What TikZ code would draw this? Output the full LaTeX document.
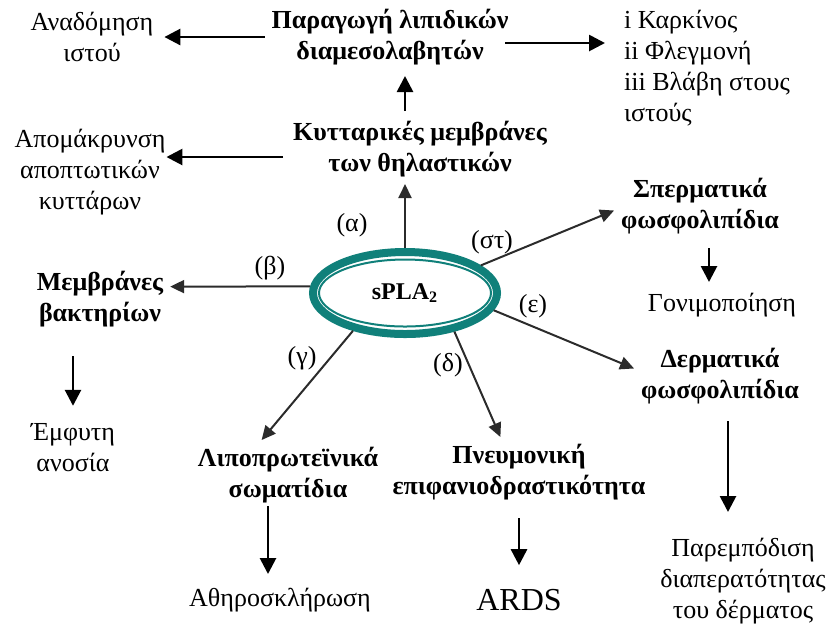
\documentclass[tikz,border=0pt]{standalone}
\usepackage{fontspec}
\setmainfont{Liberation Serif}
\usepackage{tikz}
\usetikzlibrary{shapes.geometric, arrows.meta}
\definecolor{splateal}{HTML}{10807A}
\definecolor{raygray}{HTML}{2B2B2B}

\begin{document}
\begin{tikzpicture}[
    x=0.5pt, y=-0.5pt,
    font=\fontsize{13}{15.5}\selectfont,
    cause/.style={align=center, font=\fontsize{13}{15.5}\selectfont\bfseries},
    effect/.style={align=center},
    tag/.style={inner sep=1pt},
    ray/.style={-{Triangle[length=7pt, width=6.5pt]}, line width=1pt, color=raygray},
    lead/.style={-{Triangle[length=8pt, width=8pt]}, line width=1.35pt, shorten <=1.5pt, shorten >=2pt}
]
\useasboundingbox (0,0) rectangle (838,629);
\node[ellipse, draw=splateal, line width=4pt, minimum width=92pt, minimum height=41pt] (spla) at (405,293) {};
\node[ellipse, draw=splateal, line width=1pt, minimum width=86pt, minimum height=33.5pt, font=\fontsize{12}{14}\selectfont\bfseries] (core) at (spla) {sPLA\textsubscript{2}};

\node[cause] (cell) at (420,149) {Κυτταρικές μεμβράνες\\των θηλαστικών};
\node[cause] (prod) at (390,37) {Παραγωγή λιπιδικών\\διαμεσολαβητών};
\node[effect] (anad) at (92,37) {Αναδόμηση\\ιστού};
\node[effect, align=left, anchor=west] (harm) at (617,68) {i Καρκίνος\\ii Φλεγμονή\\iii Βλάβη στους\\ιστούς};
\node[effect] (apom) at (90,172) {Απομάκρυνση\\αποπτωτικών\\κυττάρων};
\node[cause] (sperm) at (700,206) {Σπερματικά\\φωσφολιπίδια};
\node[effect] (fert) at (722,305) {Γονιμοποίηση};
\node[cause] (memb) at (100,299) {Μεμβράνες\\βακτηρίων};
\node[effect] (innate) at (73,448) {Έμφυτη\\ανοσία};
\node[cause] (derm) at (720,376) {Δερματικά\\φωσφολιπίδια};
\node[effect] (skin) at (743,581) {Παρεμπόδιση\\διαπερατότητας\\του δέρματος};
\node[cause] (lipo) at (288,475) {Λιποπρωτεϊνικά\\σωματίδια};
\node[effect] (athero) at (280,600) {Αθηροσκλήρωση};
\node[cause] (pneu) at (519,472) {Πνευμονική\\επιφανιοδραστικότητα};
\node[effect, font=\fontsize{16}{18}\selectfont] (ards) at (519,600) {ARDS};

\node[tag] (ta) at (352,225) {(α)};
\node[tag] (tb) at (270,268) {(β)};
\node[tag] (tc) at (302,358) {(γ)};
\node[tag] (td) at (448,365) {(δ)};
\node[tag] (te) at (533,306) {(ε)};
\node[tag] (tf) at (492,242) {(στ)};

\draw[ray] (spla) -- (spla |- cell.south);
\draw[ray] (spla.176) -- (memb.10);
\draw[ray] (spla.216) -- (lipo.127);
\draw[ray] (spla.322) -- (pneu.118);
\draw[ray] (spla.349) -- (derm.175);
\draw[ray] (spla.20) -- (sperm.183);

\draw[lead] (spla |- cell.north) -- (spla |- prod.south);
\draw[lead, shorten <=0pt] (prod.west) -- (prod.west -| anad.east);
\draw[lead, shorten <=-5pt, shorten >=6pt] ([yshift=-3pt]prod.east) -- ([yshift=-3pt]prod.east -| harm.west);
\draw[lead, shorten >=-3pt] ([yshift=-4pt]cell.west) -- ([yshift=-4pt]cell.west -| apom.east);
\draw[lead, shorten <=3.5pt] ([xshift=4.5pt]sperm.south) -- ([xshift=4.5pt]sperm.south |- fert.north);
\draw[lead, shorten <=11pt, shorten >=5.5pt] (innate |- memb.south) -- (innate);
\draw[lead, shorten <=-2pt, shorten >=3.5pt] ([xshift=-6pt]athero.north |- lipo.south) -- ([xshift=-6pt]athero.north);
\draw[lead, shorten <=5.5pt, shorten >=8.5pt] (ards |- pneu.south) -- (ards);
\draw[lead, shorten <=5pt, shorten >=9.5pt] ([xshift=4pt]derm.south) -- ([xshift=4pt]derm.south |- skin.north);
\end{tikzpicture}
\end{document}
